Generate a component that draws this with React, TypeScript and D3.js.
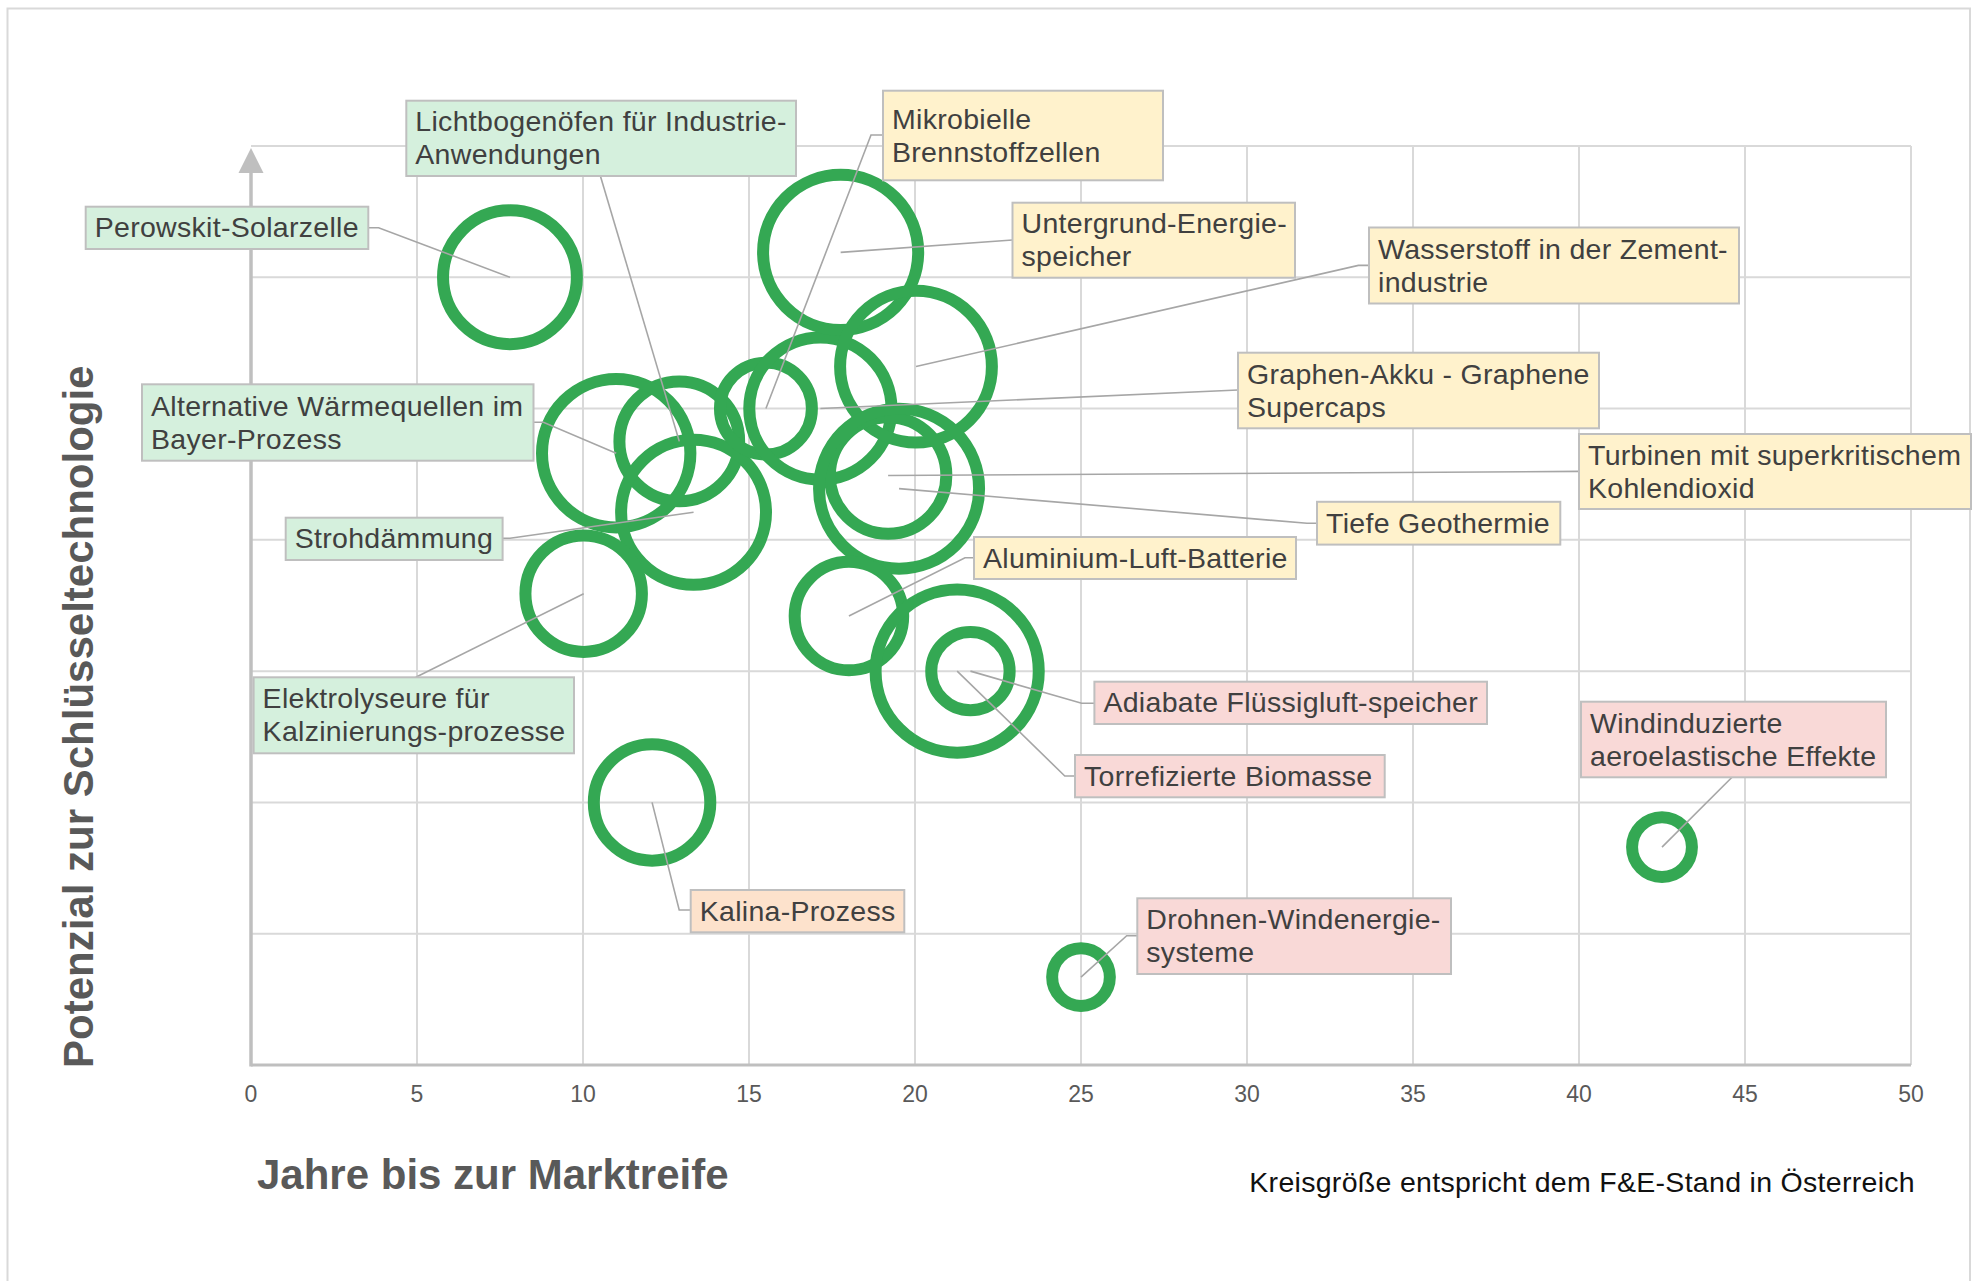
import React from "react";
import * as d3 from "d3";

// ---------- data ----------
const technologies = [
  "Perowskit-Solarzelle",
  "Lichtbogenöfen für Industrie-Anwendungen",
  "Alternative Wärmequellen im Bayer-Prozess",
  "Strohdämmung",
  "Elektrolyseure für Kalzinierungs-prozesse",
  "Kalina-Prozess",
  "Mikrobielle Brennstoffzellen",
  "Graphen-Akku - Graphene Supercaps",
  "Untergrund-Energie-speicher",
  "Wasserstoff in der Zement-industrie",
  "Turbinen mit superkritischem Kohlendioxid",
  "Tiefe Geothermie",
  "Aluminium-Luft-Batterie",
  "Adiabate Flüssigluft-speicher",
  "Torrefizierte Biomasse",
  "Windinduzierte aeroelastische Effekte",
  "Drohnen-Windenergiesysteme",
];
const labelLines = [
  ["Perowskit-Solarzelle"],
  ["Lichtbogenöfen für Industrie-", "Anwendungen"],
  ["Alternative Wärmequellen im", "Bayer-Prozess"],
  ["Strohdämmung"],
  ["Elektrolyseure für", "Kalzinierungs-prozesse"],
  ["Kalina-Prozess"],
  ["Mikrobielle", "Brennstoffzellen"],
  ["Graphen-Akku - Graphene", "Supercaps"],
  ["Untergrund-Energie-", "speicher"],
  ["Wasserstoff in der Zement-", "industrie"],
  ["Turbinen mit superkritischem", "Kohlendioxid"],
  ["Tiefe Geothermie"],
  ["Aluminium-Luft-Batterie"],
  ["Adiabate Flüssigluft-speicher"],
  ["Torrefizierte Biomasse"],
  ["Windinduzierte", "aeroelastische Effekte"],
  ["Drohnen-Windenergie-", "systeme"],
];
const yearsToMarket = [7.8, 12.9, 11.0, 13.33, 10.02, 12.08, 15.51, 17.15, 17.76, 20.03, 19.19, 19.52, 18.01, 21.67, 21.27, 42.5, 25.0];
const potential = [6.0, 4.75, 4.66, 4.21, 3.59, 2.0, 5.0, 5.0, 6.19, 5.32, 4.49, 4.39, 3.42, 3.0, 3.0, 1.66, 0.67];
const rdStatus = [7.0, 5.6, 8.6, 8.2, 5.3, 5.3, 3.3, 7.9, 9.4, 9.0, 5.3, 10.0, 4.6, 2.4, 10.4, 1.4, 1.3];
const category = ["g", "g", "g", "g", "g", "o", "y", "y", "y", "y", "y", "y", "y", "p", "p", "p", "p"];
const xTicks = [0, 5, 10, 15, 20, 25, 30, 35, 40, 45, 50];
const yGridValues = [1, 2, 3, 4, 5, 6, 7];
const xTitle = "Jahre bis zur Marktreife";
const yTitle = "Potenzial zur Schlüsseltechnologie";
const caption = "Kreisgröße entspricht dem F&E-Stand in Österreich";

// ---------- layout (annotation boxes, pixel space) ----------
type Box = { x: number; y: number; w: number; h: number; ax: number; ay: number; ex?: number; ey?: number };
const labelBoxes: Box[] = [
  { x: 85.7, y: 206.7, w: 282.6, h: 42.3, ax: 368.3, ay: 227.7, ex: 378.6, ey: 227.7 },
  { x: 406.3, y: 100.7, w: 389.7, h: 75.3, ax: 600.4, ay: 176 },
  { x: 142, y: 384.3, w: 391.5, h: 76.4, ax: 533.5, ay: 422.3, ex: 543.4, ey: 422.3 },
  { x: 285.7, y: 517.7, w: 216.9, h: 42.3, ax: 502.6, ay: 538.3, ex: 510, ey: 538.3 },
  { x: 253.6, y: 677.3, w: 320.4, h: 76, ax: 415.8, ay: 677.3 },
  { x: 690.7, y: 890, w: 213.6, h: 42.3, ax: 690.7, ay: 910, ex: 679.2, ey: 910 },
  { x: 883, y: 90.7, w: 280, h: 89.6, ax: 883, ay: 135, ex: 871, ey: 135 },
  { x: 1238, y: 352.7, w: 361, h: 75.6, ax: 1238, ay: 390 },
  { x: 1012.5, y: 202.7, w: 282.5, h: 75, ax: 1012.5, ay: 240 },
  { x: 1369, y: 227.5, w: 370, h: 76, ax: 1369, ay: 265.4, ex: 1358.4, ey: 265.4 },
  { x: 1579, y: 434, w: 392, h: 75, ax: 1579, ay: 471.4 },
  { x: 1317, y: 501.8, w: 243.3, h: 42.8, ax: 1317, ay: 523.3, ex: 1307, ey: 523.3 },
  { x: 974, y: 537, w: 322, h: 42, ax: 974, ay: 557.7, ex: 965, ey: 557.7 },
  { x: 1094.4, y: 681.7, w: 392.6, h: 42.3, ax: 1094.4, ay: 703.3, ex: 1081.6, ey: 703.3 },
  { x: 1075, y: 755, w: 309.7, h: 42.3, ax: 1075, ay: 776, ex: 1064.8, ey: 776 },
  { x: 1581, y: 701.7, w: 305, h: 75.6, ax: 1732, ay: 777.3 },
  { x: 1137.3, y: 898.3, w: 313.7, h: 75.7, ax: 1137.3, ay: 935.7, ex: 1126.7, ey: 935.7 },
];

const W = 1978;
const H = 1281;
const FILL: Record<string, string> = { g: "#d5f0dd", y: "#fff2cc", p: "#f9d9d7", o: "#fde2cc" };
const FONT = "'Liberation Sans', Arial, Helvetica, sans-serif";

export default function App() {
  const x = d3.scaleLinear().domain([0, 50]).range([251, 1911]);
  const y = d3.scaleLinear().domain([0, 7]).range([1065, 146]);
  const r = d3.scaleSqrt().domain([0, 10]).range([0, 80]);

  const line = d3.line<[number, number]>();

  return (
    <svg
      width={W}
      height={H}
      style={{ position: "absolute", left: 0, top: 0, background: "#fff" }}
      fontFamily={FONT}
    >
      {/* outer frame */}
      <rect x={7.5} y={8.5} width={1962.5} height={1290} fill="none" stroke="#d9d9d9" strokeWidth={2} />

      {/* grid */}
      {xTicks.filter((t) => t > 0).map((t) => (
        <line key={"vx" + t} x1={x(t)} x2={x(t)} y1={y(7)} y2={y(0)} stroke="#d9d9d9" strokeWidth={2} />
      ))}
      {yGridValues.map((v) => (
        <line key={"hy" + v} x1={x(0)} x2={x(50)} y1={y(v)} y2={y(v)} stroke="#d9d9d9" strokeWidth={2} />
      ))}

      {/* axes */}
      <line x1={x(0)} x2={x(50)} y1={y(0)} y2={y(0)} stroke="#bfbfbf" strokeWidth={3} />
      <line x1={x(0)} x2={x(0)} y1={y(0) + 1.5} y2={173} stroke="#bfbfbf" strokeWidth={3.5} />
      <path d={`M${x(0) - 12.5},173 L${x(0)},148 L${x(0) + 12.5},173 Z`} fill="#bfbfbf" />

      {/* x tick labels */}
      {xTicks.map((t) => (
        <text key={"tx" + t} x={x(t)} y={1102} textAnchor="middle" fontSize={23} fill="#595959">
          {t}
        </text>
      ))}

      {/* bubbles */}
      {technologies.map((name, i) => (
        <circle
          key={"c" + i}
          cx={x(yearsToMarket[i])}
          cy={y(potential[i])}
          r={r(rdStatus[i])}
          fill="none"
          stroke="#34a853"
          strokeWidth={12}
        >
          <title>{name}</title>
        </circle>
      ))}

      {/* leader lines */}
      {labelBoxes.map((b, i) => {
        const pts: [number, number][] = [[x(yearsToMarket[i]), y(potential[i])]];
        if (b.ex !== undefined && b.ey !== undefined) pts.push([b.ex, b.ey]);
        pts.push([b.ax, b.ay]);
        return <path key={"l" + i} d={line(pts) || ""} fill="none" stroke="#a6a6a6" strokeWidth={1.6} />;
      })}

      {/* label boxes */}
      {labelBoxes.map((b, i) => {
        const lines = labelLines[i];
        const cy = b.y + b.h / 2;
        return (
          <g key={"b" + i}>
            <rect x={b.x} y={b.y} width={b.w} height={b.h} fill={FILL[category[i]]} stroke="#bfbfbf" strokeWidth={2} />
            {lines.map((t, j) => (
              <text
                key={j}
                x={b.x + 9}
                y={cy + 9.5 + (j - (lines.length - 1) / 2) * 33}
                fontSize={28.5}
                letterSpacing={0.3}
                fill="#404040"
              >
                {t}
              </text>
            ))}
          </g>
        );
      })}

      {/* axis titles */}
      <text x={257} y={1189} fontSize={42} fontWeight="bold" fill="#595959">
        {xTitle}
      </text>
      <text transform="translate(93,1068) rotate(-90)" fontSize={42} fontWeight="bold" fill="#595959">
        {yTitle}
      </text>

      {/* caption */}
      <text x={1915} y={1192} textAnchor="end" fontSize={28.5} letterSpacing={0.3} fill="#111">
        {caption}
      </text>
    </svg>
  );
}
